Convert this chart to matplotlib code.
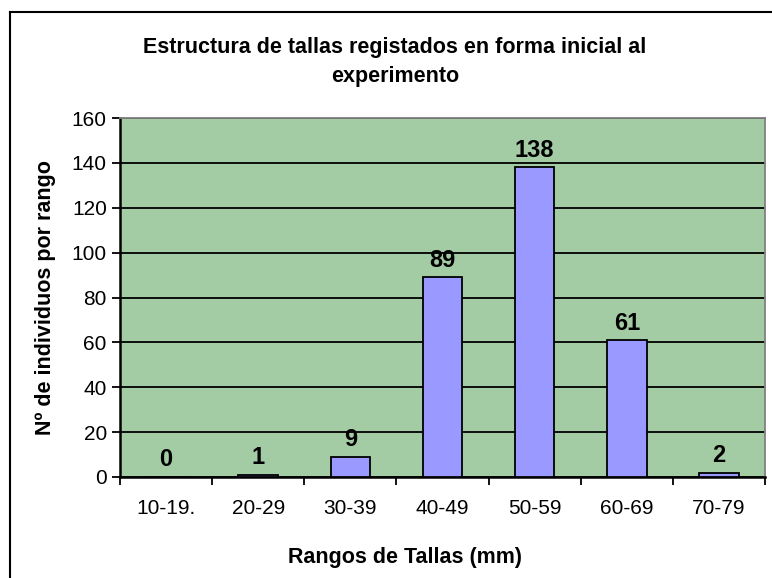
import matplotlib
matplotlib.use("Agg")
import matplotlib.pyplot as plt
from matplotlib.lines import Line2D
import numpy as np

# Data
rangos = ["10-19.", "20-29", "30-39", "40-49", "50-59", "60-69", "70-79"]
individuos = [0, 1, 9, 89, 138, 61, 2]

plt.rcParams["font.family"] = ["Liberation Sans", "DejaVu Sans"]

fig = plt.figure(figsize=(7.72, 5.78), dpi=100)
ax = fig.add_axes([120 / 772, 1 - 477 / 578, 645 / 772, 359 / 578])

green = "#a4cca4"
ax.set_facecolor(green)

x = np.arange(len(rangos))
ax.bar(x, individuos, width=0.43, color="#9999ff", edgecolor="black",
       linewidth=1.3, zorder=3)

for xi, v in zip(x, individuos):
    ax.annotate(str(v), (xi, v), xytext=(0, 4), textcoords="offset points",
                ha="center", va="bottom", fontsize=17, fontweight="bold",
                zorder=4)

ax.set_xlim(-0.5, len(rangos) - 0.5)
ax.set_ylim(0, 160)
ax.set_yticks(range(0, 161, 20))
ax.yaxis.grid(True, color="black", linewidth=1.3, zorder=1)
ax.set_axisbelow(True)

# Category labels centred, tick marks between categories
ax.set_xticks(x)
ax.set_xticklabels(rangos, fontsize=15)
ax.tick_params(axis="x", length=0, pad=16)
ax.set_xticks(np.arange(-0.5, len(rangos)), minor=True)
ax.tick_params(axis="x", which="minor", length=6, width=1.3, direction="out")
ax.tick_params(axis="y", labelsize=15, length=6, width=1.3, direction="out")

for s in ["left", "bottom"]:
    ax.spines[s].set_color("black")
    ax.spines[s].set_linewidth(1.8)
for s in ["top", "right"]:
    ax.spines[s].set_color("#808080")
    ax.spines[s].set_linewidth(1.3)

ax.set_ylabel("Nº de individuos por rango", fontsize=15.5, fontweight="bold",
              labelpad=11)
fig.text(405 / 772, 1 - 557 / 578, "Rangos de Tallas (mm)", ha="center",
         va="center", fontsize=15.5, fontweight="bold")

fig.text(395 / 772, 1 - 62 / 578,
         "Estructura de tallas registados en forma inicial al\nexperimento",
         ha="center", va="center", fontsize=15.5, fontweight="bold",
         linespacing=1.55)

# chart border, cut off at right and bottom
bx, by = 10 / 772, 1 - 12 / 578
fig.add_artist(Line2D([bx, bx], [0, by], transform=fig.transFigure,
                      color="black", linewidth=1.5))
fig.add_artist(Line2D([bx, 1], [by, by], transform=fig.transFigure,
                      color="black", linewidth=1.5))

fig.savefig("out.png", dpi=100)
